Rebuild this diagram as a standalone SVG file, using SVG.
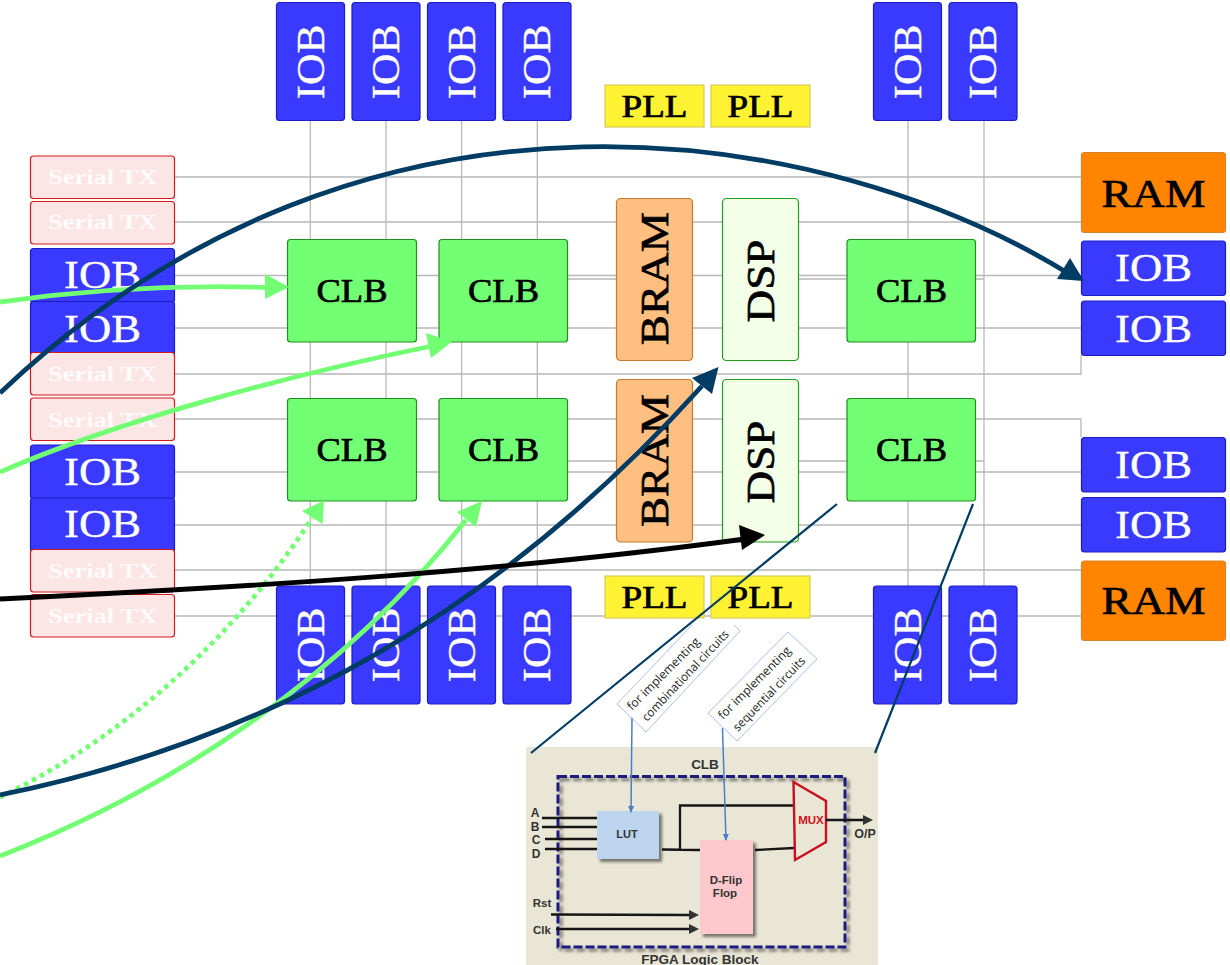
<svg xmlns="http://www.w3.org/2000/svg" width="1230" height="965" viewBox="0 0 1230 965">
<style>
text{font-family:"Liberation Serif","Times New Roman",serif;text-anchor:middle}
.w{stroke:#b8b8b8;stroke-width:1.3;fill:none}
.box{stroke-width:1.2}
.iob{fill:#3a3aff;stroke:#1c1cc4}
.tx{fill:#fce5e5;stroke:#d4181c}
.clb{fill:#73ff73;stroke:#1f8f1f}
.bram{fill:#ffbf80;stroke:#c67a2e}
.dsp{fill:#f3ffe6;stroke:#1d9e1d}
.ram{fill:#ff8500;stroke:#d8842e}
.pll{fill:#fff233;stroke:#d6cb5a}
.big{font-size:41px}
.wh{fill:#fff;stroke:#fff;stroke-width:.35}
.tt{font-size:22px;fill:#fff;font-weight:bold;fill-opacity:.88}
.k{fill:#000;stroke:#000;stroke-width:.7}
.arc{fill:none;stroke-width:4.8}
.nav{stroke:#003c64}
.grn{stroke:#73ff73}
.thin{stroke:#003c64;stroke-width:2.2;fill:none}
.call{fill:#fff;stroke:#a9c1ea;stroke-width:1}
.calltext{font-family:"Open Sans","Liberation Sans",sans-serif;font-size:12px;fill:#222;text-anchor:start}
.blue{stroke:#4a7fc8;stroke-width:1.5;fill:none}
.hw{stroke:#151515;stroke-width:2.3;fill:none}
.fig{font-family:"Liberation Sans",Arial,sans-serif;font-weight:bold;font-size:12px;fill:#333}
</style>
<defs>
<marker id="bh" markerWidth="8" markerHeight="8" refX="6" refY="3" orient="auto" markerUnits="userSpaceOnUse"><path d="M0,0L7,3L0,6z" fill="#4a7fc8"/></marker>
<marker id="kh" markerWidth="12" markerHeight="12" refX="1" refY="5" orient="auto" markerUnits="userSpaceOnUse"><path d="M0,0L10,5L0,10z" fill="#333"/></marker>
<filter id="sh" x="-20%" y="-20%" width="150%" height="150%"><feGaussianBlur in="SourceAlpha" stdDeviation="1.5"/><feOffset dx="2.5" dy="2.5"/><feComponentTransfer><feFuncA type="linear" slope=".5"/></feComponentTransfer><feMerge><feMergeNode/><feMergeNode in="SourceGraphic"/></feMerge></filter>
</defs>

<g id="connectors">
<path class="w" d="M175,177H1081M175,222H1081M175,275.5H1081M175,328H1081M175,374H1081V355M175,419H1081V437M175,472H1081M175,525H1081M175,570H1081M175,616H1081"/>
<path class="w" d="M567,279H616M798,279H984M567,461H616M798,461H984"/>
<path class="w" d="M310.3,120V586M386,120V586M461.6,120V586M537.3,120V586M908,120V586M984,120V586"/>
</g>

<g id="tx1"><rect class="box tx" x="30.5" y="156" width="144" height="42.5" rx="3"/><text class="tt" x="102.5" y="184.3" textLength="109" lengthAdjust="spacingAndGlyphs">Serial TX</text></g>
<g id="tx2"><rect class="box tx" x="30.5" y="201.5" width="144" height="42.5" rx="3"/><text class="tt" x="102.5" y="229.3" textLength="109" lengthAdjust="spacingAndGlyphs">Serial TX</text></g>
<g id="iobl1"><rect class="box iob" x="30.5" y="248.5" width="144" height="54" rx="3"/><text class="big wh" x="102.5" y="288" textLength="77" lengthAdjust="spacingAndGlyphs">IOB</text></g>
<g id="iobl2"><rect class="box iob" x="30.5" y="301.5" width="144" height="54" rx="3"/><text class="big wh" x="102.5" y="341.7" textLength="77" lengthAdjust="spacingAndGlyphs">IOB</text></g>
<g id="tx3"><rect class="box tx" x="30.5" y="352.5" width="144" height="42.5" rx="3"/><text class="tt" x="102.5" y="380.7" textLength="109" lengthAdjust="spacingAndGlyphs">Serial TX</text></g>
<g id="tx4"><rect class="box tx" x="30.5" y="398" width="144" height="42.5" rx="3"/><text class="tt" x="102.5" y="426.7" textLength="109" lengthAdjust="spacingAndGlyphs">Serial TX</text></g>
<g id="iobl3"><rect class="box iob" x="30.5" y="445" width="144" height="54" rx="3"/><text class="big wh" x="102.5" y="485" textLength="77" lengthAdjust="spacingAndGlyphs">IOB</text></g>
<g id="iobl4"><rect class="box iob" x="30.5" y="498" width="144" height="54" rx="3"/><text class="big wh" x="102.5" y="537" textLength="77" lengthAdjust="spacingAndGlyphs">IOB</text></g>
<g id="tx5"><rect class="box tx" x="30.5" y="549.5" width="144" height="42.5" rx="3"/><text class="tt" x="102.5" y="577.7" textLength="109" lengthAdjust="spacingAndGlyphs">Serial TX</text></g>
<g id="tx6"><rect class="box tx" x="30.5" y="594.5" width="144" height="42.5" rx="3"/><text class="tt" x="102.5" y="622.7" textLength="109" lengthAdjust="spacingAndGlyphs">Serial TX</text></g>

<g id="iobt1"><rect class="box iob" x="276.5" y="2.5" width="68" height="118" rx="3"/><text class="big wh" transform="translate(323.5,62) rotate(-90)" textLength="75" lengthAdjust="spacingAndGlyphs">IOB</text></g>
<g id="iobt2"><rect class="box iob" x="352" y="2.5" width="68" height="118" rx="3"/><text class="big wh" transform="translate(399,62) rotate(-90)" textLength="75" lengthAdjust="spacingAndGlyphs">IOB</text></g>
<g id="iobt3"><rect class="box iob" x="427.5" y="2.5" width="68" height="118" rx="3"/><text class="big wh" transform="translate(474.5,62) rotate(-90)" textLength="75" lengthAdjust="spacingAndGlyphs">IOB</text></g>
<g id="iobt4"><rect class="box iob" x="503" y="2.5" width="68" height="118" rx="3"/><text class="big wh" transform="translate(550,62) rotate(-90)" textLength="75" lengthAdjust="spacingAndGlyphs">IOB</text></g>
<g id="iobt5"><rect class="box iob" x="873.5" y="2.5" width="68" height="118" rx="3"/><text class="big wh" transform="translate(920.5,62) rotate(-90)" textLength="75" lengthAdjust="spacingAndGlyphs">IOB</text></g>
<g id="iobt6"><rect class="box iob" x="949" y="2.5" width="68" height="118" rx="3"/><text class="big wh" transform="translate(996,62) rotate(-90)" textLength="75" lengthAdjust="spacingAndGlyphs">IOB</text></g>

<g id="iobb1"><rect class="box iob" x="276.5" y="586" width="68" height="118" rx="3"/><text class="big wh" transform="translate(323.5,645) rotate(-90)" textLength="75" lengthAdjust="spacingAndGlyphs">IOB</text></g>
<g id="iobb2"><rect class="box iob" x="352" y="586" width="68" height="118" rx="3"/><text class="big wh" transform="translate(399,645) rotate(-90)" textLength="75" lengthAdjust="spacingAndGlyphs">IOB</text></g>
<g id="iobb3"><rect class="box iob" x="427.5" y="586" width="68" height="118" rx="3"/><text class="big wh" transform="translate(474.5,645) rotate(-90)" textLength="75" lengthAdjust="spacingAndGlyphs">IOB</text></g>
<g id="iobb4"><rect class="box iob" x="503" y="586" width="68" height="118" rx="3"/><text class="big wh" transform="translate(550,645) rotate(-90)" textLength="75" lengthAdjust="spacingAndGlyphs">IOB</text></g>
<g id="iobb5"><rect class="box iob" x="873.5" y="586" width="68" height="118" rx="3"/><text class="big wh" transform="translate(920.5,645) rotate(-90)" textLength="75" lengthAdjust="spacingAndGlyphs">IOB</text></g>
<g id="iobb6"><rect class="box iob" x="949" y="586" width="68" height="118" rx="3"/><text class="big wh" transform="translate(996,645) rotate(-90)" textLength="75" lengthAdjust="spacingAndGlyphs">IOB</text></g>

<g id="pll1"><rect class="box pll" x="605" y="85" width="99" height="42"/><text class="k" font-size="32" x="654.5" y="117" textLength="66" lengthAdjust="spacingAndGlyphs">PLL</text></g>
<g id="pll2"><rect class="box pll" x="711" y="85" width="99" height="42"/><text class="k" font-size="32" x="760.5" y="117" textLength="66" lengthAdjust="spacingAndGlyphs">PLL</text></g>

<g id="clb1"><rect class="box clb" x="287.5" y="239.5" width="129" height="102.5" rx="3"/><text class="k" font-size="33" x="352" y="302" textLength="71" lengthAdjust="spacingAndGlyphs">CLB</text></g>
<g id="clb2"><rect class="box clb" x="439" y="239.5" width="128.5" height="102.5" rx="3"/><text class="k" font-size="33" x="503.5" y="302" textLength="71" lengthAdjust="spacingAndGlyphs">CLB</text></g>
<g id="clb3"><rect class="box clb" x="847" y="239.5" width="128.5" height="102.5" rx="3"/><text class="k" font-size="33" x="911.5" y="302" textLength="71" lengthAdjust="spacingAndGlyphs">CLB</text></g>
<g id="clb4"><rect class="box clb" x="287.5" y="398.5" width="129" height="102.5" rx="3"/><text class="k" font-size="33" x="352" y="461" textLength="71" lengthAdjust="spacingAndGlyphs">CLB</text></g>
<g id="clb5"><rect class="box clb" x="439" y="398.5" width="128.5" height="102.5" rx="3"/><text class="k" font-size="33" x="503.5" y="461" textLength="71" lengthAdjust="spacingAndGlyphs">CLB</text></g>
<g id="clb6"><rect class="box clb" x="847" y="398.5" width="128.5" height="102.5" rx="3"/><text class="k" font-size="33" x="911.5" y="461" textLength="71" lengthAdjust="spacingAndGlyphs">CLB</text></g>

<g id="bram1"><rect class="box bram" x="616.5" y="198.5" width="76" height="162" rx="4"/><text class="big k" transform="translate(668.3,278.7) rotate(-90)" textLength="133" lengthAdjust="spacingAndGlyphs">BRAM</text></g>
<g id="bram2"><rect class="box bram" x="616.5" y="379.5" width="76" height="162.5" rx="4"/><text class="big k" transform="translate(668.3,460.5) rotate(-90)" textLength="133" lengthAdjust="spacingAndGlyphs">BRAM</text></g>
<g id="dsp1"><rect class="box dsp" x="722.5" y="198.5" width="76" height="162" rx="4"/><text class="big k" transform="translate(774,281) rotate(-90)" textLength="83" lengthAdjust="spacingAndGlyphs">DSP</text></g>
<g id="dsp2"><rect class="box dsp" x="722.5" y="379.5" width="76" height="162.5" rx="4"/><text class="big k" transform="translate(774,462) rotate(-90)" textLength="83" lengthAdjust="spacingAndGlyphs">DSP</text></g>

<g id="ram1"><rect class="box ram" x="1081.5" y="152.5" width="144" height="80" rx="3"/><text class="big k" x="1153.5" y="206.7" textLength="104" lengthAdjust="spacingAndGlyphs">RAM</text></g>
<g id="iobr1"><rect class="box iob" x="1081.5" y="241" width="144" height="54.5" rx="3"/><text class="big wh" x="1153.5" y="281" textLength="77" lengthAdjust="spacingAndGlyphs">IOB</text></g>
<g id="iobr2"><rect class="box iob" x="1081.5" y="301" width="144" height="54.5" rx="3"/><text class="big wh" x="1153.5" y="341.7" textLength="77" lengthAdjust="spacingAndGlyphs">IOB</text></g>
<g id="iobr3"><rect class="box iob" x="1081.5" y="437.5" width="144" height="54.5" rx="3"/><text class="big wh" x="1153.5" y="477.7" textLength="77" lengthAdjust="spacingAndGlyphs">IOB</text></g>
<g id="iobr4"><rect class="box iob" x="1081.5" y="497.5" width="144" height="54.5" rx="3"/><text class="big wh" x="1153.5" y="537.7" textLength="77" lengthAdjust="spacingAndGlyphs">IOB</text></g>
<g id="ram2"><rect class="box ram" x="1081.5" y="561" width="144" height="79.5" rx="3"/><text class="big k" x="1153.5" y="614" textLength="104" lengthAdjust="spacingAndGlyphs">RAM</text></g>

<g id="clb-detail">
<rect x="526" y="747" width="352" height="218" fill="#e9e6d6"/>
<rect x="558" y="776.5" width="287" height="170.5" fill="none" stroke="#1a1a80" stroke-width="3" stroke-dasharray="9 3" filter="url(#sh)"/>
<path class="hw" d="M542,818H597M542,827H597M545,839H597M545,849H597M662,849.5L700,850M680,850V805.5H793M755,850L794,848"/>
<rect x="597" y="811" width="62" height="48" fill="#bcd4ee" filter="url(#sh)"/>
<rect x="700" y="840" width="53" height="94" fill="#ffc8cc" filter="url(#sh)"/>
<path d="M793.5,782L826,801V842L795,860Z" fill="#e9e6d6" stroke="#c81020" stroke-width="2.4"/>
<path class="hw" d="M826,820H864" marker-end="url(#kh)"/>
<path class="hw" d="M551,914.5L690,915" marker-end="url(#kh)"/>
<path class="hw" d="M556,929H690" marker-end="url(#kh)"/>
<text class="fig" x="705" y="769" style="font-size:13.5px">CLB</text>
<text class="fig" x="535" y="817">A</text>
<text class="fig" x="535" y="831">B</text>
<text class="fig" x="536" y="844">C</text>
<text class="fig" x="536" y="858">D</text>
<text class="fig" x="627" y="838" style="font-size:11px">LUT</text>
<text class="fig" x="811" y="824" style="fill:#d0101c;font-size:11.5px">MUX</text>
<text class="fig" x="865" y="838" style="font-size:12.5px">O/P</text>
<text class="fig" x="726" y="884" style="font-size:11.5px">D-Flip</text>
<text class="fig" x="725" y="897" style="font-size:11.5px">Flop</text>
<text class="fig" x="542" y="907" style="font-size:11.5px">Rst</text>
<text class="fig" x="542" y="934" style="font-size:11.5px">Clk</text>
<text class="fig" x="700" y="964" style="font-size:13.5px">FPGA Logic Block</text>
</g>

<g id="note-comb">
<path class="call" d="M692,625L617,704L646,732L740,631L734,625"/>
<text class="calltext" transform="translate(632,711) rotate(-45)" textLength="97" lengthAdjust="spacingAndGlyphs">for implementing</text>
<text class="calltext" transform="translate(647,722) rotate(-46.5)" textLength="120" lengthAdjust="spacingAndGlyphs">combinational circuits</text>
</g>
<g id="note-seq">
<path class="call" d="M708,713L737,741L817,659L788,632Z"/>
<text class="calltext" transform="translate(723,720) rotate(-45)" textLength="97" lengthAdjust="spacingAndGlyphs">for implementing</text>
<text class="calltext" transform="translate(738,732) rotate(-46)" textLength="98" lengthAdjust="spacingAndGlyphs">sequential circuits</text>
</g>
<g id="note-arrows">
<path class="blue" d="M632,718L631,812" marker-end="url(#bh)"/>
<path class="blue" d="M722.5,728L726,840" marker-end="url(#bh)"/>
</g>

<g id="pll3"><rect class="box pll" x="605" y="576" width="99" height="42"/><text class="k" font-size="32" x="654.5" y="608" textLength="66" lengthAdjust="spacingAndGlyphs">PLL</text></g>
<g id="pll4"><rect class="box pll" x="711" y="576" width="99" height="42"/><text class="k" font-size="32" x="760.5" y="608" textLength="66" lengthAdjust="spacingAndGlyphs">PLL</text></g>

<g id="arrows">
<path class="thin" d="M837,504L531,753"/>
<path class="thin" d="M973,504L875,753"/>
<path class="arc grn" d="M0,302C100,288 190,285 268,287.5"/>
<path fill="#73ff73" d="M289,287L265,274V299Z"/>
<path class="arc grn" d="M0,472C120,420 290,375 432,346"/>
<path fill="#73ff73" d="M452,341.7L426,333L431,358Z"/>
<path class="arc grn" stroke-dasharray="4.5 4.5" d="M0,797C130,735 240,630 312,518"/>
<path fill="#73ff73" d="M324,500.5L302,511L322.5,524Z"/>
<path class="arc grn" d="M0,856C170,790 340,680 466,520"/>
<path fill="#73ff73" d="M482,501L457,512L476,527Z"/>
<path class="arc nav" d="M0,795C270,740 500,610 702,386"/>
<path fill="#003c64" d="M718.5,367L692,378L712,394Z"/>
<path class="arc" stroke="#000" d="M0,599C250,587 500,572 745,539"/>
<path fill="#000" d="M765,535L739,525L742,550Z"/>
<path class="arc nav" d="M0,393C370,42 830,128 1066,272"/>
<path fill="#003c64" d="M1084,281L1057,279L1070,258Z"/>
</g>
</svg>
